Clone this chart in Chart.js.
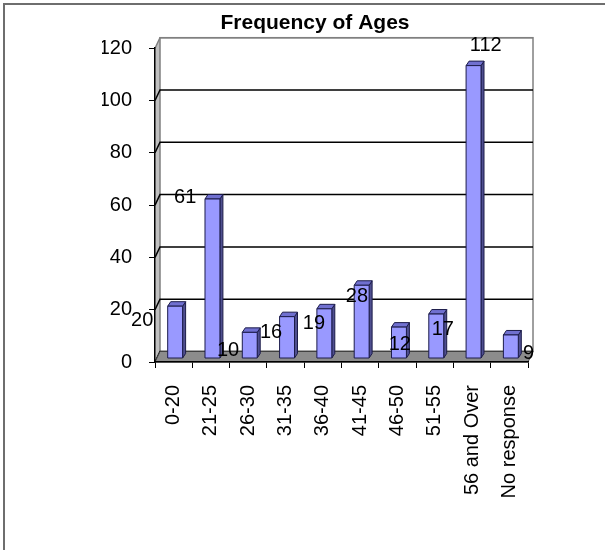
<!DOCTYPE html>
<html>
<head>
<meta charset="utf-8">
<title>Frequency of Ages</title>
<script src="https://cdn.jsdelivr.net/npm/chart.js@4/dist/chart.umd.min.js"></script>
<style>
  body { margin: 0; background: #fff; }
  canvas { display: block; }
</style>
</head>
<body>
<canvas id="myChart" width="605" height="550"></canvas>
<script>
// chart data
var ageGroups = ["0-20", "21-25", "26-30", "31-35", "36-40", "41-45", "46-50", "51-55", "56 and Over", "No response"];
var ageCounts = [20, 61, 10, 16, 19, 28, 12, 17, 112, 9];
var yTicks = [0, 20, 40, 60, 80, 100, 120];

var FONT = "'Liberation Sans', Arial, sans-serif";

// depth of the 3d walls and of the bars
var WALL_DX = 5, WALL_DY = -10.5;
var BAR_DX = 3, BAR_DY = -4.5;
var BAR_SHIFT_X = 1.5, BAR_SHIFT_Y = -3.5;

function poly(ctx, pts, fill, stroke, lw) {
    ctx.beginPath();
    ctx.moveTo(pts[0][0], pts[0][1]);
    for (var i = 1; i < pts.length; i++) ctx.lineTo(pts[i][0], pts[i][1]);
    ctx.closePath();
    if (fill) { ctx.fillStyle = fill; ctx.fill(); }
    if (stroke) { ctx.strokeStyle = stroke; ctx.lineWidth = lw || 1; ctx.stroke(); }
}

// walls, floor and gridlines, drawn before the axes
var wallsPlugin = {
    id: 'walls',
    beforeDraw: function(chart) {
        var ctx = chart.ctx, a = chart.chartArea, y = chart.scales.y;
        ctx.save();
        // outer frame (only left and top edge show)
        ctx.strokeStyle = '#6e6e6e';
        ctx.lineWidth = 2;
        ctx.beginPath();
        ctx.moveTo(4, 560); ctx.lineTo(4, 4); ctx.lineTo(620, 4);
        ctx.stroke();

        // side wall
        poly(ctx, [[a.left, a.top], [a.left + WALL_DX, a.top + WALL_DY],
                   [a.left + WALL_DX, a.bottom + WALL_DY], [a.left, a.bottom]], '#c0c0c0', null);
        // back wall outline
        ctx.strokeStyle = '#808080';
        ctx.lineWidth = 1.5;
        ctx.strokeRect(a.left + WALL_DX, a.top + WALL_DY, a.right - a.left, a.bottom - a.top);

        // gridlines on side and back wall
        for (var i = 0; i < yTicks.length; i++) {
            var py = y.getPixelForValue(yTicks[i]);
            ctx.strokeStyle = yTicks[i] === 120 ? '#808080' : '#000';
            ctx.lineWidth = 1.5;
            ctx.beginPath();
            ctx.moveTo(a.left, py);
            ctx.lineTo(a.left + WALL_DX, py + WALL_DY);
            ctx.lineTo(a.right + WALL_DX, py + WALL_DY);
            ctx.stroke();
        }

        // floor
        poly(ctx, [[a.left, a.bottom], [a.right, a.bottom],
                   [a.right + WALL_DX, a.bottom + WALL_DY], [a.left + WALL_DX, a.bottom + WALL_DY]],
             '#8c8c8c', '#404040', 1);
        ctx.restore();
    }
};

// 3d columns
var barsPlugin = {
    id: 'bars3d',
    afterDatasetsDraw: function(chart) {
        var ctx = chart.ctx;
        var meta = chart.getDatasetMeta(0);
        ctx.save();
        ctx.lineJoin = 'round';
        meta.data.forEach(function(bar) {
            var w = bar.width;
            var l = bar.x - w / 2 + BAR_SHIFT_X, r = l + w;
            var t = bar.y + BAR_SHIFT_Y, b = bar.base + BAR_SHIFT_Y;
            var edge = '#1c1c4a';
            // side
            poly(ctx, [[r, t], [r + BAR_DX, t + BAR_DY], [r + BAR_DX, b + BAR_DY], [r, b]], '#4f4f8f', edge, 1);
            // top
            poly(ctx, [[l, t], [l + BAR_DX, t + BAR_DY], [r + BAR_DX, t + BAR_DY], [r, t]], '#7070d0', edge, 1);
            // front
            poly(ctx, [[l, t], [r, t], [r, b], [l, b]], '#9999ff', edge, 1);
        });
        ctx.restore();
    }
};

// value labels, placed the way the original spreads them
var labelsPlugin = {
    id: 'valueLabels',
    afterDraw: function(chart) {
        var ctx = chart.ctx, xs = chart.scales.x, ys = chart.scales.y;
        ctx.save();
        ctx.font = '20px ' + FONT;
        ctx.fillStyle = '#000';
        ctx.textAlign = 'center';
        ctx.textBaseline = 'middle';
        for (var i = 0; i < ageCounts.length; i++) {
            var lx = xs.getPixelForValue(i * 1.151 - 0.842);
            var ly = ys.getPixelForValue(ageCounts[i] * 1.143) + 18;
            ctx.fillText(String(ageCounts[i]), lx, ly);
        }
        ctx.restore();
    }
};

var ctx = document.getElementById('myChart').getContext('2d');
var chart = new Chart(ctx, {
    type: 'bar',
    data: {
        labels: ageGroups,
        datasets: [{
            label: 'Frequency',
            data: ageCounts,
            backgroundColor: 'rgba(0,0,0,0)',
            borderWidth: 0,
            categoryPercentage: 1.0,
            barPercentage: 0.4
        }]
    },
    options: {
        responsive: false,
        animation: false,
        layout: { padding: { left: 102, right: 77, top: 0, bottom: 0 } },
        plugins: {
            legend: { display: false },
            tooltip: { enabled: false },
            title: {
                display: true,
                text: 'Frequency of Ages',
                color: '#000',
                font: { family: FONT, size: 21, weight: 'bold', lineHeight: 1.2 },
                padding: { top: 11, bottom: 12 }
            }
        },
        scales: {
            x: {
                afterFit: function(scale) { scale.height = 188; },
                border: { display: true, color: '#000', width: 1.5 },
                grid: { drawOnChartArea: false, drawTicks: true, tickLength: 6, color: '#000', offset: true },
                ticks: {
                    color: '#000',
                    font: { family: FONT, size: 20 },
                    minRotation: 90, maxRotation: 90,
                    autoSkip: false,
                    padding: 17
                }
            },
            y: {
                min: 0, max: 120,
                afterFit: function(scale) { scale.width = 53; },
                border: { display: true, color: '#000', width: 1.5 },
                grid: { drawOnChartArea: false, drawTicks: true, tickLength: 6, color: '#000' },
                ticks: {
                    stepSize: 20,
                    color: '#000',
                    font: { family: FONT, size: 20 },
                    padding: 17
                }
            }
        }
    },
    plugins: [wallsPlugin, barsPlugin, labelsPlugin]
});
</script>
</body>
</html>
